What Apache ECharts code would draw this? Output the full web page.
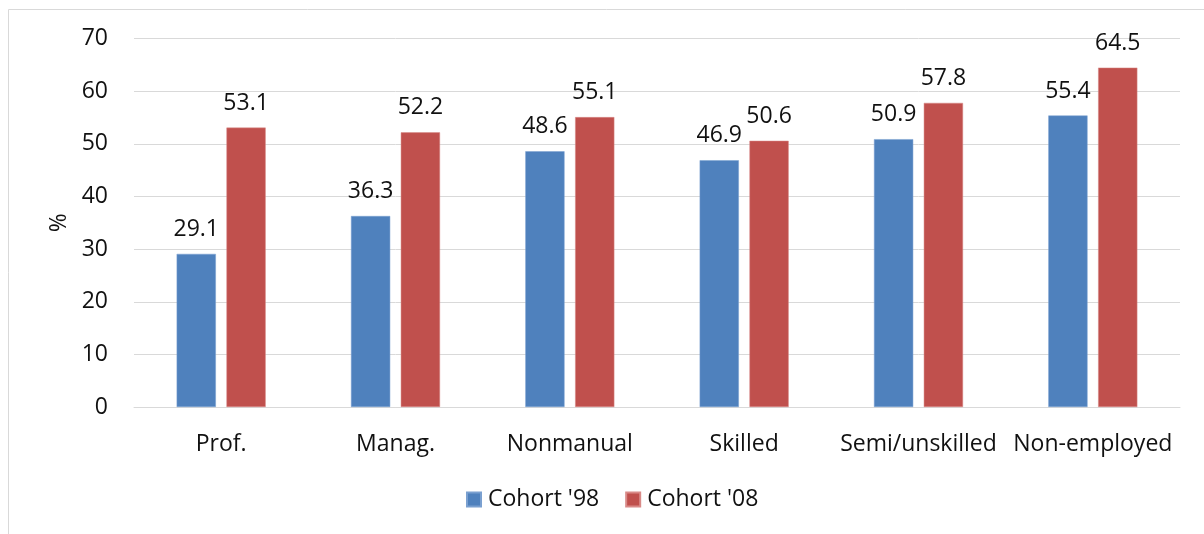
<!DOCTYPE html>
<html><head><meta charset="utf-8">
<script src="https://cdn.jsdelivr.net/npm/echarts@6/dist/echarts.min.js"></script>
<style>html,body{margin:0;padding:0;background:#fff}#c{width:1204px;height:534px}</style>
</head><body><div id="c"></div>
<script>
const categories = ['Prof.', 'Manag.', 'Nonmanual', 'Skilled', 'Semi/unskilled', 'Non-employed'];
const cohort98 = [29.1, 36.3, 48.6, 46.9, 50.9, 55.4];
const cohort08 = [53.1, 52.2, 55.1, 50.6, 57.8, 64.5];
const seriesNames = ["Cohort '98", "Cohort '08"];
const FONT = 'Open Sans';
const FS = 23;
const chart = echarts.init(document.getElementById('c'));
const lbl = {show: true, position: 'top', distance: 13, color: '#111', fontSize: FS, fontFamily: FONT};
chart.setOption({
  animation: false,
  textStyle: {fontFamily: FONT},
  graphic: [{type: 'rect', shape: {x: 8.5, y: 9.5, width: 1300, height: 600}, style: {fill: 'none', stroke: '#d9d9d9', lineWidth: 1}, silent: true}],
  grid: {left: 134, right: 24, top: 38.7, bottom: 127},
  legend: {data: seriesNames, bottom: 18, left: 461, itemWidth: 14, itemHeight: 14, itemGap: 26,
    textStyle: {fontSize: FS, color: '#111', fontFamily: FONT, padding: [0, 0, 0, 2]}, icon: 'rect'},
  xAxis: {type: 'category', data: categories,
    axisLine: {lineStyle: {color: '#d9d9d9', width: 1}}, axisTick: {show: false},
    axisLabel: {color: '#111', fontSize: FS, margin: 26, fontFamily: FONT, interval: 0}},
  yAxis: {type: 'value', min: 0, max: 70, interval: 10, name: '%', nameLocation: 'middle', nameGap: 61, nameRotate: 90,
    nameTextStyle: {color: '#111', fontSize: FS, fontFamily: FONT},
    axisLabel: {color: '#111', fontSize: FS, margin: 26, fontFamily: FONT},
    axisLine: {show: false}, axisTick: {show: false},
    splitLine: {lineStyle: {color: '#d9d9d9', width: 1}}},
  series: [
    {name: seriesNames[0], type: 'bar', data: cohort98, barWidth: '22.5%', barGap: '27%',
     itemStyle: {color: '#4F81BD', borderColor: '#7aa0d0', borderWidth: 0.5}, label: lbl},
    {name: seriesNames[1], type: 'bar', data: cohort08, barWidth: '22.5%',
     itemStyle: {color: '#C0504D', borderColor: '#d98a88', borderWidth: 0.5}, label: lbl}
  ]
});
</script></body></html>
